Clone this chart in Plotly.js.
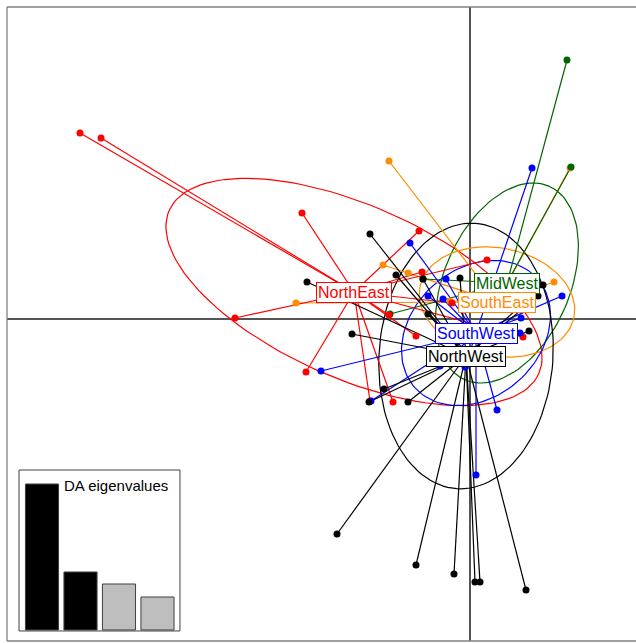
<!DOCTYPE html>
<html>
<head>
<meta charset="utf-8">
<script src="https://cdn.plot.ly/plotly-3.0.1.min.js"></script>
<style>
html,body{margin:0;padding:0;background:#fff;}
#chart{width:636px;height:643px;}
</style>
</head>
<body>
<div id="chart"></div>
<script>
// ---- data ----
const groups = ["NorthEast", "MidWest", "SouthEast", "SouthWest", "NorthWest"];
const groupColors = ["#FF0000", "#006400", "#FF8C00", "#0000FF", "#000000"];
const centroidX = [-2.32, 0.74, 0.54, 0.12, -0.08];
const centroidY = [0.54, 0.72, 0.34, -0.28, -0.74];

// ellipse parameters (semi-axes and rotation in degrees), one per group
const ellipseA = [4.04, 2.11, 1.57, 1.64, 2.66];
const ellipseB = [1.73, 1.26, 1.08, 1.28, 1.74];
const ellipseAngle = [-23.8, 66.6, -11, 42, 86];

// individual discriminant scores
const northEastX = [-7.80, -7.38, -3.36, -4.70, -3.28, -1.02, 0.34, -0.96, -1.62, -1.08, -1.54, -2.00, -0.36, 1.06];
const northEastY = [3.72, 3.62, 2.12, 0.02, -1.06, 1.76, 1.18, 0.94, 0.08, -0.34, -1.66, -1.64, 0.32, -0.36];
const midWestX = [1.94, 2.02, -0.94, -1.60];
const midWestY = [5.18, 3.04, 0.80, 0.10];
const southEastX = [-1.62, 2.00, -3.48, -1.74, -1.24, 1.68, -0.40];
const southEastY = [3.16, 3.02, 0.32, 1.08, 0.92, 0.74, 0.36];
const southWestX = [1.24, -1.20, -2.98, 0.54, 0.12, 1.84, -0.48, -0.84, -0.54, 1.02, 1.00, -0.60, -0.10, -1.98];
const southWestY = [3.02, 1.52, -1.04, -1.82, -3.12, 0.46, 0.80, 0.46, 0.40, 0.02, -0.28, -0.94, -0.96, -1.64];
const northWestX = [-2.66, -1.08, -0.32, 0.10, 0.20, 1.12, -2.00, -3.26, -2.36, -2.02, -1.72, -1.24, -1.48, -0.94, -0.20, 1.46, 1.36, 1.18, -0.84];
const northWestY = [-4.30, -4.92, -5.10, -5.26, -5.26, -5.42, 1.70, 0.74, -0.30, -1.66, -1.40, -1.66, 0.88, 0.80, 0.82, 0.68, 0.46, -0.24, 0.10];

const eigenLabels = ["1", "2", "3", "4"];
const eigenValues = [146, 58, 46, 33];
const eigenColors = ["#000000", "#000000", "#BEBEBE", "#BEBEBE"];

// ---- build ----
const pointsX = [northEastX, midWestX, southEastX, southWestX, northWestX];
const pointsY = [northEastY, midWestY, southEastY, southWestY, northWestY];

const traces = [];

// ellipses
for (let g = 0; g < groups.length; g++) {
  const ex = [], ey = [];
  const th = ellipseAngle[g] * Math.PI / 180;
  for (let i = 0; i <= 120; i++) {
    const t = 2 * Math.PI * i / 120;
    const u = ellipseA[g] * Math.cos(t), v = ellipseB[g] * Math.sin(t);
    ex.push(centroidX[g] + u * Math.cos(th) - v * Math.sin(th));
    ey.push(centroidY[g] + u * Math.sin(th) + v * Math.cos(th));
  }
  traces.push({x: ex, y: ey, mode: "lines", type: "scatter",
    line: {color: groupColors[g], width: 1.2}, hoverinfo: "skip", showlegend: false});
}

// stars (centroid to each individual)
const drawOrder = [2, 1, 0, 3, 4];
for (const g of drawOrder) {
  const sx = [], sy = [];
  for (let i = 0; i < pointsX[g].length; i++) {
    sx.push(centroidX[g], pointsX[g][i], null);
    sy.push(centroidY[g], pointsY[g][i], null);
  }
  traces.push({x: sx, y: sy, mode: "lines", type: "scatter",
    line: {color: groupColors[g], width: 1.2}, hoverinfo: "skip", showlegend: false});
}

// points
for (const g of drawOrder) {
  traces.push({x: pointsX[g], y: pointsY[g], mode: "markers", type: "scatter",
    marker: {color: groupColors[g], size: 7}, name: groups[g], showlegend: false});
}

// eigenvalue inset
traces.push({x: eigenLabels.map((_, i) => i), y: eigenValues, type: "bar",
  xaxis: "x2", yaxis: "y2", width: 0.86,
  marker: {color: eigenColors, line: {color: "#404040", width: 1}},
  hoverinfo: "skip", showlegend: false});

const annotations = groups.map((g, i) => ({
  x: centroidX[i], y: centroidY[i], xref: "x", yref: "y",
  text: g, showarrow: false,
  font: {family: "Liberation Sans, Arial, sans-serif", size: 16, color: groupColors[i]},
  bgcolor: "#FFFFFF", bordercolor: groupColors[i], borderwidth: 1, borderpad: 1
}));
annotations.push({
  x: 1.91, y: 145, xref: "x2", yref: "y2", text: "DA eigenvalues", showarrow: false,
  font: {family: "Liberation Sans, Arial, sans-serif", size: 15, color: "#000"}
});

const layout = {
  width: 636, height: 643,
  margin: {l: 7, r: 0, t: 7, b: 2, pad: 0},
  paper_bgcolor: "#FFFFFF", plot_bgcolor: "#FFFFFF",
  showlegend: false,
  xaxis: {range: [-9.26, 3.32], showgrid: false, showticklabels: false, ticks: "",
    zeroline: true, zerolinecolor: "#555555", zerolinewidth: 1.3, showline: false, fixedrange: true},
  yaxis: {range: [-6.44, 6.24], showgrid: false, showticklabels: false, ticks: "",
    zeroline: true, zerolinecolor: "#555555", zerolinewidth: 1.3, showline: false, fixedrange: true},
  xaxis2: {domain: [0.0191, 0.275], anchor: "y2", range: [-0.597, 3.584],
    showgrid: false, showticklabels: false, ticks: "", zeroline: false, showline: false},
  yaxis2: {domain: [0.0158, 0.2697], anchor: "x2", range: [-1, 160],
    showgrid: false, showticklabels: false, ticks: "", zeroline: false, showline: false},
  shapes: [
    {type: "line", xref: "paper", yref: "paper", x0: 0, x1: 0, y0: 0, y1: 1, line: {color: "#808080", width: 1.3}},
    {type: "line", xref: "paper", yref: "paper", x0: 0, x1: 1.01, y0: 1, y1: 1, line: {color: "#808080", width: 1.3}},
    {type: "line", xref: "paper", yref: "paper", x0: 0, x1: 1.01, y0: 0, y1: 0, line: {color: "#808080", width: 1.3}},
    {type: "rect", xref: "x2 domain", yref: "y2 domain", x0: 0, x1: 1, y0: 0, y1: 1,
      line: {color: "#404040", width: 1}, fillcolor: "rgba(0,0,0,0)", layer: "above"}
  ],
  annotations: annotations
};

Plotly.newPlot("chart", traces, layout, {staticPlot: true, displayModeBar: false});
</script>
</body>
</html>
